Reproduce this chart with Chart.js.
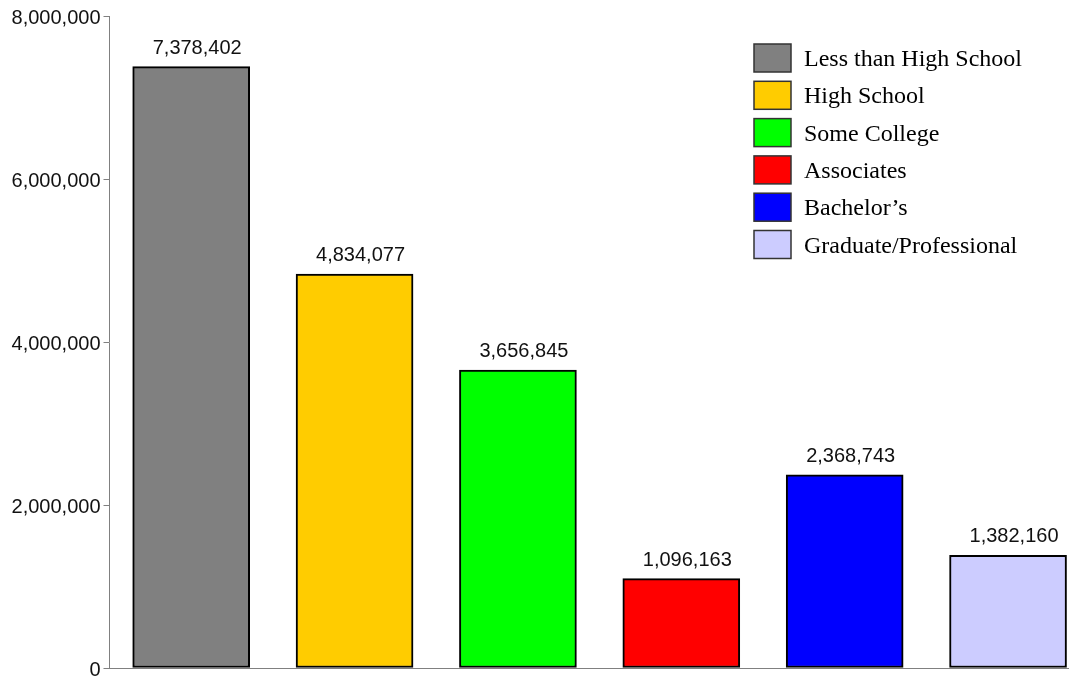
<!DOCTYPE html>
<html>
<head>
<meta charset="utf-8">
<script src="https://cdn.jsdelivr.net/npm/chart.js@4"></script>
<style>
  html, body { margin: 0; padding: 0; background: #fff; overflow: hidden; }
  #wrap { width: 1078px; height: 677px; overflow: hidden; }
</style>
</head>
<body>
<div id="wrap"><canvas id="chart" width="1078" height="683"></canvas></div>
<script>
const categories = ['Less than High School', 'High School', 'Some College', 'Associates', 'Bachelor\u2019s', 'Graduate/Professional'];
const values = [7378402, 4834077, 3656845, 1096163, 2368743, 1382160];
const colors = ['#808080', '#FFCC00', '#00FF00', '#FF0000', '#0000FF', '#CCCCFF'];
const yTicks = [0, 2000000, 4000000, 6000000, 8000000];

const fmt = n => n.toLocaleString('en-US');

// value labels above each bar
const valueLabels = {
    id: 'valueLabels',
    afterDatasetsDraw(chart) {
        const ctx = chart.ctx;
        ctx.save();
        ctx.font = '20px "Liberation Sans", Arial, sans-serif';
        ctx.fillStyle = '#111';
        ctx.textAlign = 'center';
        ctx.textBaseline = 'alphabetic';
        chart.data.datasets.forEach((ds, i) => {
            const bar = chart.getDatasetMeta(i).data[0];
            ctx.fillText(fmt(ds.data[0].y), bar.x + 6, bar.y - 13);
        });
        ctx.restore();
    }
};

// legend as a column of boxes in the top right
const sideLegend = {
    id: 'sideLegend',
    afterDraw(chart) {
        const ctx = chart.ctx;
        const x = 754, y0 = 44, step = 37.3, bw = 37, bh = 28;
        ctx.save();
        ctx.font = '24px "Liberation Serif", "Times New Roman", serif';
        ctx.textBaseline = 'alphabetic';
        chart.data.datasets.forEach((ds, i) => {
            const y = y0 + i * step;
            ctx.fillStyle = ds.backgroundColor;
            ctx.fillRect(x, y, bw, bh);
            ctx.strokeStyle = '#333';
            ctx.lineWidth = 1.5;
            ctx.strokeRect(x, y, bw, bh);
            ctx.fillStyle = '#000';
            ctx.fillText(ds.label, 804, y + bh / 2 + 8);
        });
        ctx.restore();
    }
};

const datasets = categories.map((c, i) => ({
    label: c,
    data: [{ x: i, y: values[i] }],
    backgroundColor: colors[i],
    borderColor: '#000',
    borderWidth: 2,
    borderSkipped: false,
    barThickness: 117,
    grouped: false
}));

new Chart(document.getElementById('chart'), {
    type: 'bar',
    data: { datasets },
    options: {
        responsive: false,
        animation: false,
        layout: { padding: { top: 16, right: 10, bottom: 4, left: 0 } },
        plugins: {
            legend: { display: false },
            tooltip: { enabled: false }
        },
        scales: {
            x: {
                type: 'linear',
                offset: false,
                min: -0.5,
                max: 5.367,
                ticks: { display: false },
                grid: { display: false, drawTicks: false, offset: false },
                border: { display: true, color: '#808080', width: 1 }
            },
            y: {
                min: 0,
                max: 8000000,
                afterBuildTicks: scale => { scale.ticks = yTicks.map(v => ({ value: v })); },
                afterFit: scale => { scale.width = 109.5; },
                ticks: {
                    padding: 3,
                    labelOffset: 2,
                    color: '#111',
                    font: { family: '"Liberation Sans", Arial, sans-serif', size: 20 },
                    callback: v => fmt(v)
                },
                grid: { drawOnChartArea: false, tickLength: 6, color: '#808080' },
                border: { color: '#808080', width: 1 }
            }
        }
    },
    plugins: [valueLabels, sideLegend]
});
</script>
</body>
</html>
